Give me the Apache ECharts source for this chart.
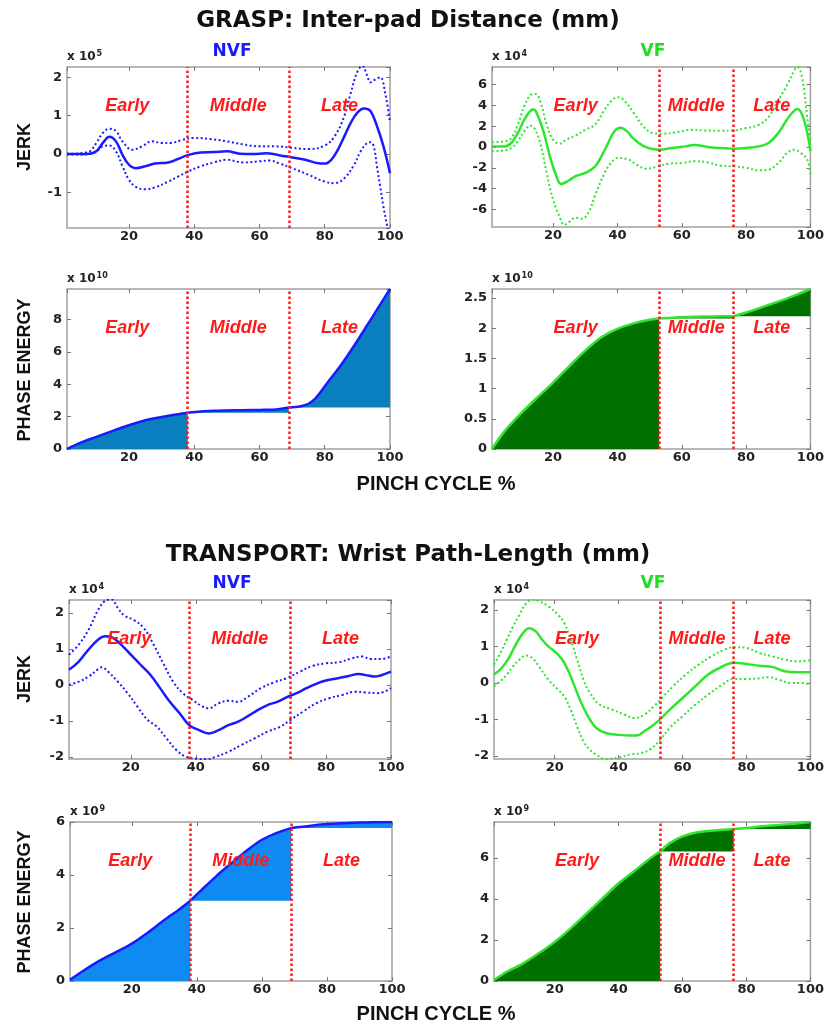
<!DOCTYPE html>
<html><head><meta charset="utf-8">
<script src="https://cdn.jsdelivr.net/npm/echarts@6/dist/echarts.min.js"></script>
<style>html,body{margin:0;padding:0;background:#fff}#c{width:827px;height:1024px}</style>
</head><body><div id="c"></div>
<script>
// ---------- DATA ----------
const PHASE_NAMES = ['Early', 'Middle', 'Late'];
const PHASES_NVF = [1, 38, 69, 100];
const PHASES_VF = [1, 53, 76, 100];
const X_TICKS = [20, 40, 60, 80, 100];

// GRASP - NVF jerk (x 10^5)
const G_NVF_MEAN_X = [1,5,8,10,12,14,16,18,20,22,25,28,32,35,38,42,46,50,54,58,62,66,70,74,78,80,82,84,86,88,90,92,94,96,98,100];
const G_NVF_MEAN_Y = [0,0,0.01,0.07,0.29,0.45,0.33,-0.02,-0.28,-0.37,-0.32,-0.25,-0.22,-0.13,-0.03,0.04,0.05,0.07,0.01,0,0.02,-0.03,-0.09,-0.15,-0.24,-0.25,-0.15,0.11,0.46,0.82,1.08,1.19,1.12,0.73,0.2,-0.5];
const G_NVF_UP_X = [1,4,6,8,10,12,14,16,18,21,24,27,30,33,36,40,45,50,55,60,65,70,75,80,83,86,88,90,91.5,93,94,95.5,97,98.5,100];
const G_NVF_UP_Y = [0.01,0.01,0.03,0.07,0.29,0.55,0.66,0.6,0.33,0.11,0.2,0.33,0.29,0.29,0.36,0.42,0.39,0.33,0.25,0.2,0.2,0.16,0.13,0.22,0.46,0.99,1.6,2.15,2.3,2.05,1.87,1.95,2.0,1.6,0.82];
const G_NVF_LO_X = [1,6,8,10,12,14,16,18,20,22,25,28,32,35,38,42,46,50,55,60,63,66,70,75,80,83,86,89,91,93,94,95,96,97,98,99,100];
const G_NVF_LO_Y = [-0.01,-0.01,0,0.07,0.2,0.22,0.07,-0.32,-0.67,-0.85,-0.92,-0.87,-0.72,-0.59,-0.46,-0.32,-0.22,-0.15,-0.22,-0.19,-0.17,-0.24,-0.37,-0.54,-0.72,-0.76,-0.63,-0.28,0.07,0.29,0.31,0.2,-0.32,-0.85,-1.38,-1.82,-2.2];

// GRASP - VF jerk (x 10^4)
const G_VF_MEAN_X = [1,5,7,9,11,13,14,15,17,19,21,22.5,25,27,30,33,35,37,39,41,43,45,48,51,53,57,61,64,68,72,76,80,84,87,90,93,95,96,98,100];
const G_VF_MEAN_Y = [0.06,0.06,0.4,1.34,2.6,3.5,3.6,3.2,1.5,-0.9,-2.8,-3.55,-3.2,-2.8,-2.5,-1.9,-0.9,0.3,1.5,1.85,1.5,0.8,0.1,-0.2,-0.26,-0.1,0.06,0.19,0,-0.1,-0.16,-0.1,0.06,0.38,1.34,2.78,3.5,3.65,2.6,-0.4];
const G_VF_UP_X = [1,5,7,9,11,13,14.5,16,18,20,22,24,27,30,33,36,38,40,42,45,48,51,54,58,63,67,72,76,80,84,87,90,93,95,96,97.5,99,100];
const G_VF_UP_Y = [0.45,0.55,0.86,2.14,3.9,5.0,5.1,4.4,2.14,0.7,0.32,0.7,1.1,1.66,2.14,3.6,4.4,4.8,4.5,3.3,2.0,1.34,1.28,1.4,1.66,1.6,1.57,1.6,1.82,2.14,2.9,4.5,6.1,7.4,7.7,6.5,2.9,0.7];
const G_VF_LO_X = [1,5,7,9,11,13,14,16,18,20,22,23.5,25,27,29,31,33,36,38,40,43,46,49,52,56,60,64,68,72,76,80,84,87,90,93,95,97,99,100];
const G_VF_LO_Y = [-0.42,-0.32,-0.1,0.54,1.5,2.05,1.92,0.38,-2.5,-5.1,-6.7,-7.5,-7.2,-6.8,-6.9,-6.3,-4.7,-2.5,-1.54,-1.06,-1.15,-1.7,-2.1,-1.92,-1.6,-1.54,-1.38,-1.47,-1.8,-1.86,-2.0,-2.24,-2.18,-1.54,-0.5,-0.26,-0.58,-1.2,-2.66];

// GRASP - phase energy (x 10^10)
const G_NVF_E_X = [1,5,10,15,20,25,30,35,38,42,46,50,55,60,65,69,71,73,75,77,79,81,85,90,95,100];
const G_NVF_E_Y = [0,0.38,0.75,1.12,1.47,1.78,1.98,2.15,2.24,2.32,2.36,2.38,2.4,2.42,2.45,2.57,2.6,2.66,2.8,3.1,3.6,4.15,5.2,6.7,8.3,9.9];
const G_VF_E_X = [1,5,10,15,20,25,30,35,40,45,50,53,58,64,70,76,80,85,90,95,100];
const G_VF_E_Y = [0,0.3,0.59,0.85,1.1,1.37,1.63,1.85,1.99,2.08,2.14,2.16,2.18,2.19,2.195,2.2,2.26,2.35,2.44,2.54,2.65];

// TRANSPORT - NVF jerk (x 10^4)
const T_NVF_MEAN_X = [1,4,7,10,12,14,17,20,23,26,29,32,35,38,41,44,47,50,53,56,59,62,65,68,71,74,77,80,84,87,90,93,95,97,100];
const T_NVF_MEAN_Y = [0.42,0.65,0.98,1.26,1.35,1.33,1.12,0.84,0.56,0.28,-0.09,-0.47,-0.79,-1.12,-1.26,-1.35,-1.26,-1.12,-1.02,-0.87,-0.7,-0.56,-0.47,-0.34,-0.23,-0.09,0.03,0.12,0.19,0.25,0.3,0.26,0.23,0.27,0.37];
const T_NVF_UP_X = [1,4,7,10,12,14,16,18,21,24,27,30,33,36,39,42,44,47,50,53,56,60,64,68,72,76,80,84,88,91,94,97,100];
const T_NVF_UP_Y = [0.84,1.12,1.53,2.09,2.33,2.38,2.14,1.93,1.8,1.58,1.12,0.6,0.09,-0.23,-0.42,-0.6,-0.65,-0.51,-0.44,-0.47,-0.33,-0.09,0.07,0.19,0.37,0.53,0.6,0.63,0.74,0.79,0.72,0.72,0.79];
const T_NVF_LO_X = [1,4,7,10,11,13,16,19,22,25,28,31,34,37,40,43,46,50,54,58,62,66,69,73,77,81,85,89,92,96,100];
const T_NVF_LO_Y = [0,0.09,0.23,0.44,0.49,0.37,0.09,-0.23,-0.6,-0.96,-1.16,-1.49,-1.81,-2.0,-2.05,-2.07,-2.0,-1.86,-1.67,-1.49,-1.3,-1.16,-0.98,-0.74,-0.51,-0.37,-0.28,-0.19,-0.21,-0.23,-0.09];

// TRANSPORT - VF jerk (x 10^4)
const T_VF_MEAN_X = [1,3,5,7,9,11,12,14,16,18,21,23,25,27,29,31,33,36,40,44,46,48,51,53,56,60,64,68,72,76,80,84,88,92,96,100];
const T_VF_MEAN_Y = [0.23,0.37,0.59,0.91,1.23,1.46,1.5,1.42,1.19,1.0,0.78,0.55,0.18,-0.27,-0.68,-1.0,-1.23,-1.37,-1.42,-1.44,-1.43,-1.32,-1.14,-0.99,-0.73,-0.41,-0.09,0.23,0.43,0.55,0.52,0.47,0.44,0.32,0.29,0.29];
const T_VF_UP_X = [1,3,5,7,9,11,13,15,18,21,23,25,27,29,31,34,38,42,45,48,51,54,57,61,65,69,73,76,80,84,88,92,96,100];
const T_VF_UP_Y = [0.5,0.82,1.19,1.55,1.87,2.17,2.28,2.24,2.1,1.87,1.64,1.19,0.64,0.09,-0.27,-0.59,-0.73,-0.87,-0.96,-0.87,-0.64,-0.37,-0.09,0.23,0.5,0.73,0.91,0.98,0.96,0.82,0.73,0.64,0.59,0.62];
const T_VF_LO_X = [1,3,5,7,9,11,13,15,18,21,23,25,27,29,31,33,36,40,44,47,50,53,56,60,64,68,72,76,80,84,87,90,94,97,100];
const T_VF_LO_Y = [-0.09,0.05,0.23,0.46,0.64,0.75,0.68,0.46,0.09,-0.18,-0.37,-0.73,-1.19,-1.6,-1.83,-1.96,-2.08,-2.04,-1.95,-1.92,-1.81,-1.55,-1.23,-0.91,-0.59,-0.32,-0.07,0.11,0.11,0.13,0.16,0.09,0,0,-0.03];

// TRANSPORT - phase energy (x 10^9)
const T_NVF_E_X = [1,5,10,15,20,25,30,35,38,42,46,50,55,60,65,69,75,80,90,100];
const T_NVF_E_Y = [0.05,0.38,0.76,1.08,1.41,1.83,2.3,2.74,3.03,3.5,3.96,4.38,4.89,5.33,5.61,5.77,5.86,5.92,5.98,6.0];
const T_VF_E_X = [1,5,10,15,20,25,30,35,40,45,50,53,56,60,65,70,76,80,85,90,95,100];
const T_VF_E_Y = [0.05,0.45,0.85,1.35,1.91,2.57,3.3,4.04,4.77,5.38,6.0,6.32,6.73,7.06,7.27,7.35,7.42,7.47,7.55,7.61,7.68,7.76];

// ---------- LAYOUT / STYLE ----------
const BLUE = '#1a1aff', GREEN = '#2ee62e', RED = '#ff1a1a';
const TICK_FONT = '"DejaVu Sans", sans-serif';
const ARIAL = '"Liberation Sans", Arial, sans-serif';

const panels = [
  {rect:[67,67,323,161], y:[-1.93,2.27], split:5, exp:'5', sMin:false, sMax:false, phases:PHASES_NVF, color:BLUE,
   jerk:[[G_NVF_MEAN_X,G_NVF_MEAN_Y],[G_NVF_UP_X,G_NVF_UP_Y],[G_NVF_LO_X,G_NVF_LO_Y]]},
  {rect:[492,67,323,160], y:[-7.7,7.7], split:7, exp:'4', sMin:false, sMax:false, phases:PHASES_VF, color:GREEN,
   jerk:[[G_VF_MEAN_X,G_VF_MEAN_Y],[G_VF_UP_X,G_VF_UP_Y],[G_VF_LO_X,G_VF_LO_Y]]},
  {rect:[67,289,323,160], y:[0,9.9], split:5, exp:'10', sMin:true, sMax:false, phases:PHASES_NVF, color:BLUE, fill:'#0a7fc0',
   energy:[G_NVF_E_X,G_NVF_E_Y]},
  {rect:[492,289,323,160], y:[0,2.65], split:5, exp:'10', sMin:true, sMax:false, phases:PHASES_VF, color:GREEN, fill:'#007000',
   energy:[G_VF_E_X,G_VF_E_Y]},
  {rect:[69,600,322,159], y:[-2.06,2.36], split:5, exp:'4', sMin:false, sMax:false, phases:PHASES_NVF, color:BLUE,
   jerk:[[T_NVF_MEAN_X,T_NVF_MEAN_Y],[T_NVF_UP_X,T_NVF_UP_Y],[T_NVF_LO_X,T_NVF_LO_Y]]},
  {rect:[494,600,322,159], y:[-2.08,2.27], split:5, exp:'4', sMin:false, sMax:false, phases:PHASES_VF, color:GREEN,
   jerk:[[T_VF_MEAN_X,T_VF_MEAN_Y],[T_VF_UP_X,T_VF_UP_Y],[T_VF_LO_X,T_VF_LO_Y]]},
  {rect:[70,822,322,159], y:[0,6], split:3, exp:'9', sMin:true, sMax:true, phases:PHASES_NVF, color:BLUE, fill:'#0f8af0',
   energy:[T_NVF_E_X,T_NVF_E_Y]},
  {rect:[494,822,322,159], y:[0,7.76], split:5, exp:'9', sMin:true, sMax:false, phases:PHASES_VF, color:GREEN, fill:'#007000',
   energy:[T_VF_E_X,T_VF_E_Y]}
];

const zip = (xs, ys) => xs.map((x, i) => [x, ys[i]]);

const grids = [], xAxes = [], yAxes = [], series = [];
const tickStyle = {inside:true, length:4, lineStyle:{color:'#777', width:1}};
const noLine = {show:false, onZero:false};

panels.forEach((p, i) => {
  const [l, t, w, h] = p.rect;
  grids.push({left:l, top:t, width:w, height:h, show:true, borderColor:'#a0a0a0', borderWidth:1.5, backgroundColor:'#fff'});
  xAxes.push({gridIndex:i, type:'value', min:1, max:100, position:'bottom',
    axisLine:noLine, splitLine:{show:false}, axisTick:tickStyle,
    axisLabel:{showMinLabel:false, margin:2, color:'#222', fontWeight:'bold', fontSize:13, fontFamily:TICK_FONT,
      formatter: v => X_TICKS.includes(v) ? String(v) : ''}});
  xAxes.push({gridIndex:i, type:'value', min:1, max:100, position:'top',
    axisLine:noLine, splitLine:{show:false}, axisTick:tickStyle, axisLabel:{show:false}});
  yAxes.push({gridIndex:i, type:'value', min:p.y[0], max:p.y[1], splitNumber:p.split, position:'left',
    axisLine:noLine, splitLine:{show:false}, axisTick:tickStyle,
    axisLabel:{showMinLabel:p.sMin, showMaxLabel:p.sMax, margin:5, color:'#222', fontWeight:'bold', fontSize:13, fontFamily:TICK_FONT},
    name:'x 10{s|' + p.exp + '}', nameLocation:'end', nameGap:3,
    nameTextStyle:{align:'left', verticalAlign:'bottom', color:'#222', fontWeight:'bold', fontSize:12, fontFamily:TICK_FONT,
      rich:{s:{fontSize:8, fontWeight:'bold', fontFamily:TICK_FONT, color:'#222', verticalAlign:'top', padding:[0,0,6,1]}}}});
  yAxes.push({gridIndex:i, type:'value', min:p.y[0], max:p.y[1], splitNumber:p.split, position:'right',
    axisLine:noLine, splitLine:{show:false}, axisTick:tickStyle, axisLabel:{show:false}});

  const ph = p.phases;
  const markLine = {silent:true, symbol:['none','none'], label:{show:false}, z:9,
    lineStyle:{color:RED, type:'dotted', width:2.5},
    data:[{xAxis:ph[1]}, {xAxis:ph[2]}]};
  const markArea = {silent:true, z:10, itemStyle:{color:'rgba(0,0,0,0)'},
    label:{show:true, position:'insideTop', distance:30, color:RED, fontStyle:'italic', fontWeight:'bold', fontSize:18, fontFamily:ARIAL},
    data:PHASE_NAMES.map((n, k) => [{name:n, xAxis:ph[k]}, {xAxis:ph[k+1]}])};

  if (p.jerk) {
    p.jerk.forEach((s, k) => {
      const ser = {type:'line', xAxisIndex:2*i, yAxisIndex:2*i, data:zip(s[0], s[1]), smooth:0.4,
        showSymbol:false, silent:true, clip:true,
        lineStyle:{color:p.color, width:k === 0 ? 2.5 : 2, type:k === 0 ? 'solid' : [2, 2.5]}};
      if (k === 0) { ser.markLine = markLine; ser.markArea = markArea; }
      series.push(ser);
    });
  } else {
    const [ex, ey] = p.energy;
    for (let k = 0; k < 3; k++) {
      const a = ph[k], b = ph[k+1];
      const base = k === 0 ? 0 : ey[ex.indexOf(a)];
      const pts = zip(ex, ey).filter(d => d[0] >= a && d[0] <= b);
      const ser = {type:'line', xAxisIndex:2*i, yAxisIndex:2*i, data:pts, smooth:0.3,
        showSymbol:false, silent:true, clip:true, z:2 + k,
        lineStyle:{color:p.color, width:2.5},
        areaStyle:{color:p.fill, opacity:1, origin:base}};
      if (k === 2) { ser.markLine = markLine; ser.markArea = markArea; }
      series.push(ser);
    }
  }
});

const txt = (text, x, y, font, fill, rot) => ({type:'text', x:x, y:y, rotation:rot || 0, silent:true,
  style:{text:text, font:font, fill:fill, textAlign:'center', textVerticalAlign:'middle'}});

const graphic = [
  txt('GRASP: Inter-pad Distance (mm)', 408, 21, 'bold 23px "DejaVu Sans"', '#111'),
  txt('NVF', 232, 52, 'bold 17px "DejaVu Sans"', '#1a1aff'),
  txt('VF', 653, 52, 'bold 17px "DejaVu Sans"', '#22dd22'),
  txt('JERK', 25, 147, 'bold 18px ' + ARIAL, '#111', Math.PI/2),
  txt('PHASE ENERGY', 25, 370, 'bold 18px ' + ARIAL, '#111', Math.PI/2),
  txt('PINCH CYCLE %', 436, 484, 'bold 20px ' + ARIAL, '#111'),
  txt('TRANSPORT: Wrist Path-Length (mm)', 408, 555, 'bold 23px "DejaVu Sans"', '#111'),
  txt('NVF', 232, 584, 'bold 17px "DejaVu Sans"', '#1a1aff'),
  txt('VF', 653, 584, 'bold 17px "DejaVu Sans"', '#22dd22'),
  txt('JERK', 25, 679, 'bold 18px ' + ARIAL, '#111', Math.PI/2),
  txt('PHASE ENERGY', 25, 902, 'bold 18px ' + ARIAL, '#111', Math.PI/2),
  txt('PINCH CYCLE %', 436, 1014, 'bold 20px ' + ARIAL, '#111')
];

const chart = echarts.init(document.getElementById('c'), null, {renderer:'canvas'});
chart.setOption({animation:false, backgroundColor:'#fff', grid:grids, xAxis:xAxes, yAxis:yAxes, series:series, graphic:graphic});
</script></body></html>
